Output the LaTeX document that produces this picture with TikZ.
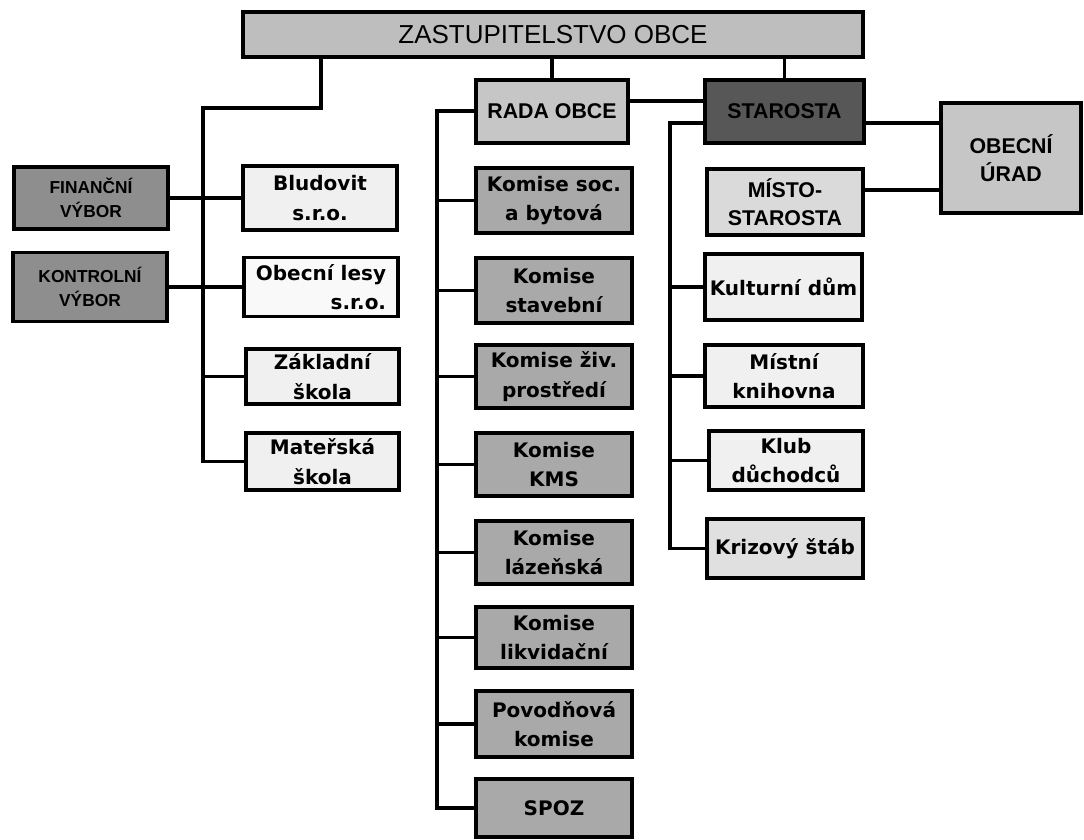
\documentclass[tikz,border=0pt]{standalone}
\usepackage{fontspec}
\setmainfont{DejaVu Sans}
\newfontfamily\arialfont{Liberation Sans}

\definecolor{headgray}{HTML}{BEBEBE}
\definecolor{radagray}{HTML}{C6C6C6}
\definecolor{stardark}{HTML}{575757}
\definecolor{vyborgray}{HTML}{8E8E8E}
\definecolor{komgray}{HTML}{A9A9A9}
\definecolor{palegray}{HTML}{F0F0F0}
\definecolor{mistogray}{HTML}{DADADA}
\definecolor{krizgray}{HTML}{E0E0E0}

\begin{document}
\begin{tikzpicture}[x=0.75pt,y=0.75pt,yscale=-1,xscale=1,
    box/.style={draw=black,line width=2.8pt,inner sep=0pt,outer sep=0pt,align=center,text=black},
    verdana/.style={box,font=\bfseries\fontsize{15}{22}\selectfont},
    arialbold/.style={box,font=\arialfont\bfseries\fontsize{16}{21}\selectfont},
    vybor/.style={box,fill=vyborgray,minimum width=116pt,font=\arialfont\bfseries\fontsize{13}{18}\selectfont},
    firma/.style={verdana,fill=palegray,minimum width=115pt},
    komise/.style={verdana,fill=komgray,minimum width=117pt},
    usek/.style={verdana,fill=palegray,minimum width=117pt},
    link/.style={line width=2.4pt,line cap=rect}]
    \useasboundingbox (0,0) rectangle (1084,839);

    % Boxes
    \node[box,fill=headgray,minimum width=465pt,minimum height=33.75pt,font=\arialfont\fontsize{19.5}{22}\selectfont] (zast) at (553,34.5) {ZASTUPITELSTVO OBCE};
    \node[arialbold,fill=radagray,minimum width=114pt,minimum height=47.25pt] (rada) at (552,111.5) {RADA OBCE};
    \node[arialbold,fill=stardark,minimum width=119.25pt,minimum height=47.25pt] (star) at (784.5,111.5) {STAROSTA};
    \node[arialbold,fill=radagray,minimum width=105pt,minimum height=82.5pt] (urad) at (1011,158) {OBECNÍ\\ÚRAD};
    \node[arialbold,fill=mistogray,minimum width=117pt,minimum height=49.5pt] (misto) at (785,202) {MÍSTO-\\STAROSTA};

    % left column
    \node[vybor,minimum height=46.5pt] (fin) at (91,198) {FINANČNÍ\\VÝBOR};
    \node[vybor,minimum height=51.75pt] (kon) at (90,287) {KONTROLNÍ\\VÝBOR};
    \node[firma,minimum height=48pt] (blud) at (320,198) {Bludovit\\s.r.o.};
    \node[firma,fill=white!60!palegray,minimum height=44.25pt,align=right] (lesy) at (321,287) {Obecní lesy\\s.r.o.};
    \node[firma,minimum height=41.25pt] (zs) at (322.5,376.5) {Základní\\škola};
    \node[firma,minimum height=42.75pt] (ms) at (322.5,461.5) {Mateřská\\škola};

    % commissions
    \node[komise,minimum height=48.75pt] (k1) at (554,200.5) {Komise soc.\\a bytová};
    \node[komise,minimum height=48.75pt] (k2) at (554,290.5) {Komise\\stavební};
    \node[komise,minimum height=47.25pt] (k3) at (554,376.5) {Komise živ.\\prostředí};
    \node[komise,minimum height=47.25pt] (k4) at (554,464.5) {Komise\\KMS};
    \node[komise,minimum height=47.25pt] (k5) at (554,552.5) {Komise\\lázeňská};
    \node[komise,minimum height=45.75pt] (k6) at (554,637.5) {Komise\\likvidační};
    \node[komise,minimum height=49.5pt] (k7) at (554,724) {Povodňová\\komise};
    \node[komise,minimum height=43.5pt] (k8) at (554,808) {SPOZ};

    % right column
    \node[usek,minimum width=117.75pt,minimum height=49.5pt] (kult) at (783.5,287) {Kulturní dům};
    \node[usek,minimum width=118.5pt,minimum height=46.5pt] (knih) at (784,376) {Místní\\knihovna};
    \node[usek,minimum width=115.5pt,minimum height=44.25pt] (klub) at (786,460.5) {Klub\\důchodců};
    \node[usek,fill=krizgray,minimum height=44.25pt] (kriz) at (785,548.5) {Krizový štáb};

    % bus corners
    \coordinate (zl) at (321,108);
    \coordinate (lb) at (203,108);
    \coordinate (mb) at (437,111);
    \coordinate (rb) at (670,123);
    \coordinate (rs) at (0,101);
    \coordinate (mu) at (0,190);

    %Straight Lines
    \draw[link] (zast.south -| zl) -- (zl) -- (lb) -- (lb |- ms.west) -- (ms.west);
    \draw[link] (fin.east) -- (blud.west);
    \draw[link] (kon.east) -- (lesy.west);
    \draw[link] (lb |- zs.west) -- (zs.west);
    %Straight Lines
    \draw[link] (zast.south -| rada.north) -- (rada.north);
    \draw[link] (zast.south -| star.north) -- (star.north);
    \draw[link] (rada.west |- mb) -- (mb) -- (mb |- k8.west) -- (k8.west);
    \foreach \k in {k1,k2,k3,k4,k5,k6,k7}
        \draw[link] (mb |- \k.west) -- (\k.west);
    \draw[link] (rada.east |- rs) -- (star.west |- rs);
    %Straight Lines
    \draw[link] (star.west |- rb) -- (rb) -- (rb |- kriz.west) -- (kriz.west);
    \foreach \k in {kult,knih,klub}
        \draw[link] (rb |- \k.west) -- (\k.west);
    \draw[link] (star.east |- rb) -- (rb -| urad.west);
    \draw[link] (misto.east |- mu) -- (urad.west |- mu);

\end{tikzpicture}
\end{document}
